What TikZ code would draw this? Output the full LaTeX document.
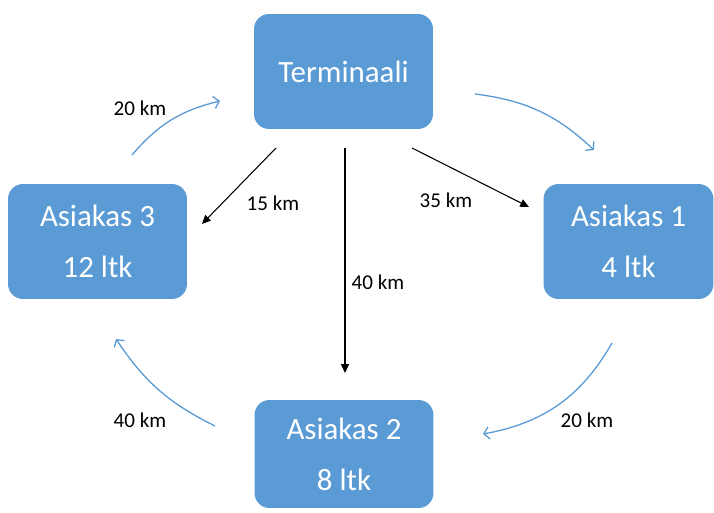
\documentclass[tikz,border=0pt]{standalone}
\usepackage{fontspec}
\setmainfont{Carlito}
\usepackage{xcolor}
\definecolor{mybl}{RGB}{91, 155, 213}
\usetikzlibrary{arrows.meta, positioning}

\begin{document}
\begin{tikzpicture}[x=0.02cm, y=0.02cm,
        box/.style={rectangle, rounded corners=15*0.02cm, fill=mybl, text=white, minimum width=3.58cm, minimum height=2.3cm, align=center, font=\fontsize{17.6}{29}\selectfont},
        km/.style={font=\fontsize{12}{14}\selectfont, text=black},
        road/.style={line width=0.6pt, -{Triangle[length=5pt, width=4.5pt]}},
        tour/.style={draw=mybl, line width=0.75pt, -{Straight Barb[length=3pt, width=7pt]}}]
        \useasboundingbox (0, 0) rectangle (714, 512);
        % customers and terminal
        \node[box] (term) at (343.5, 440.5) {Terminaali};
        \node[box] (as3) at (97.5, 270.5) {Asiakas 3\\12 ltk};
        \node[box, minimum width=3.4cm] (as1) at (628.5, 270.5) {Asiakas 1\\4 ltk};
        \node[box, minimum height=2.16cm] (as2) at (344, 58) {Asiakas 2\\8 ltk};
        % direct roads from the terminal
        \coordinate (r3s) at (276, 364);
        \coordinate (r3e) at (202, 288);
        \coordinate (r2s) at (345, 364);
        \coordinate (r2e) at (345, 139);
        \coordinate (r1s) at (412, 364);
        \coordinate (r1e) at (529, 305);
        \draw[road] (r3s) -- (r3e);
        \draw[road] (r2s) -- (r2e);
        \draw[road] (r1s) -- (r1e);
        % the tour
        \coordinate (t1s) at (475, 418);
        \coordinate (t1e) at (594, 362);
        \coordinate (t2s) at (612, 169);
        \coordinate (t2e) at (483, 78);
        \coordinate (t3s) at (215, 86);
        \coordinate (t3e) at (116, 173);
        \coordinate (t4s) at (132, 357);
        \coordinate (t4e) at (220, 411);
        \draw[tour] (t1s) to[bend left=18] (t1e);
        \draw[tour] (t2s) to[bend left=25] (t2e);
        \draw[tour] (t3s) to[bend left=15] (t3e);
        \draw[tour] (t4s) to[bend left=18] (t4e);
        % distances
        \node[km] (d4) at (140, 404) {20 km};
        \node[km] (d3) at (273, 309) {15 km};
        \node[km] (d1) at (446, 312) {35 km};
        \node[km] (d2) at (378, 230) {40 km};
        \node[km] (d12) at (587, 92) {20 km};
        \node[km] (d23) at (140, 92) {40 km};
    \end{tikzpicture}
\end{document}
